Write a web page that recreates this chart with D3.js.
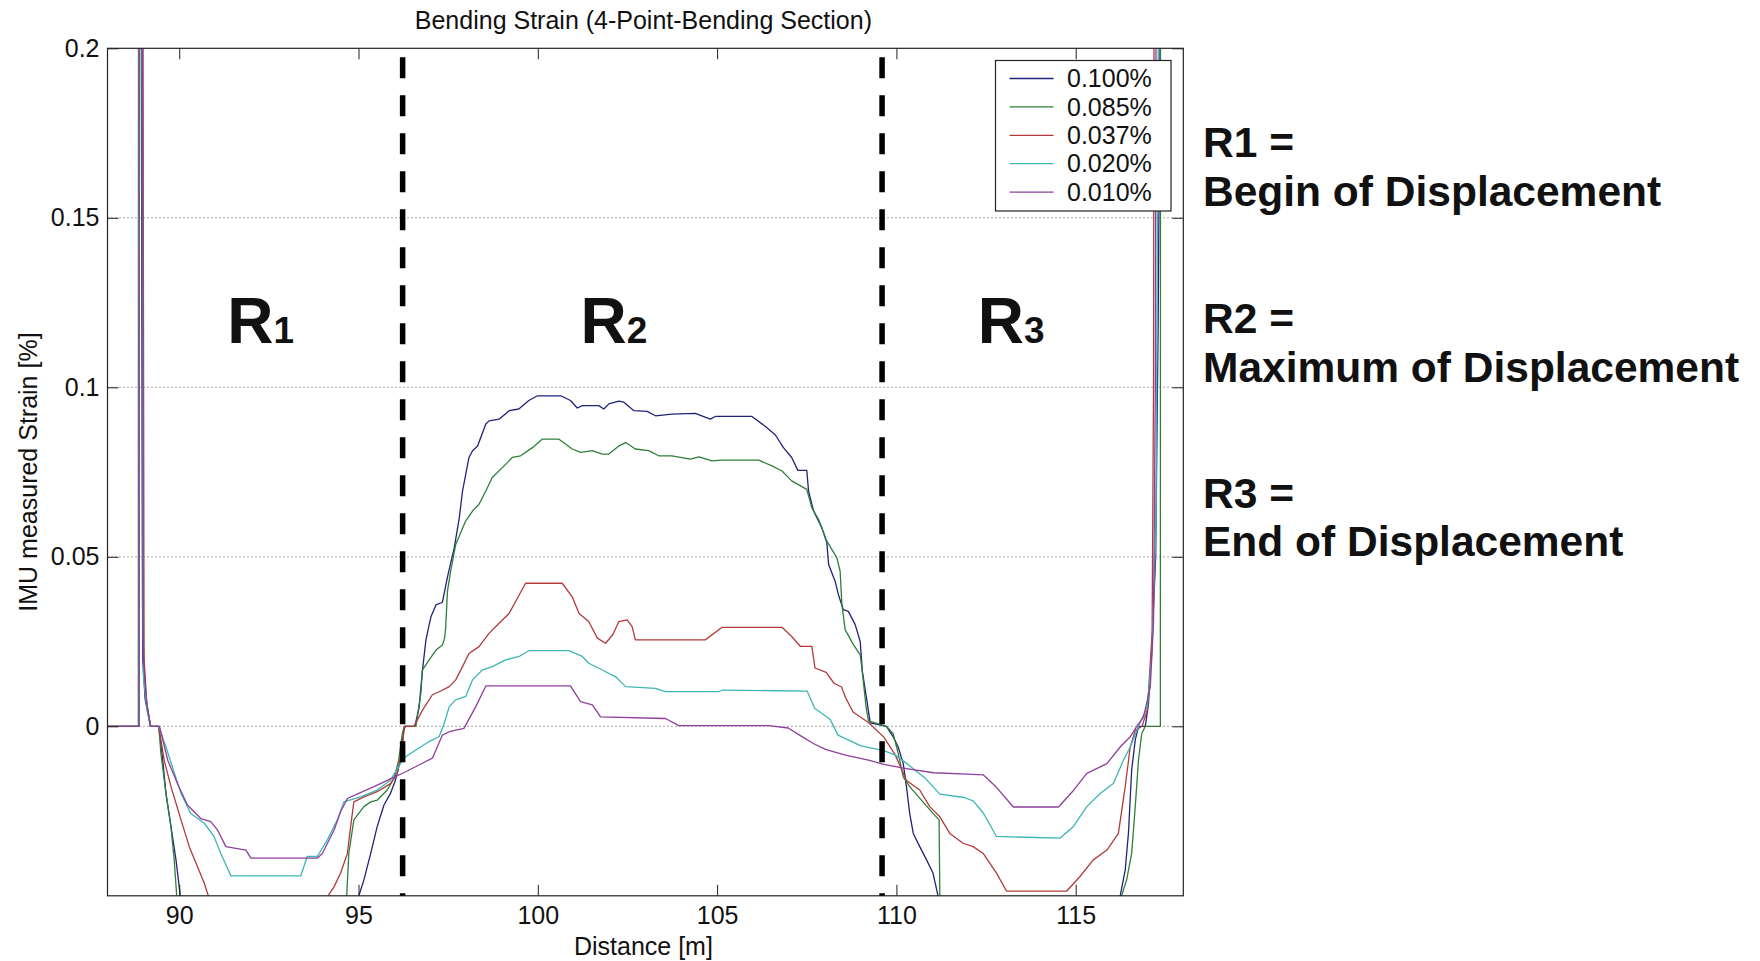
<!DOCTYPE html>
<html>
<head>
<meta charset="utf-8">
<script src="https://cdn.jsdelivr.net/npm/d3@7/dist/d3.min.js"></script>
<style>
  html, body { margin: 0; padding: 0; background: #fff; }
  svg { display: block; }
  text { font-family: "Liberation Sans", Arial, Helvetica, sans-serif; fill: #111; }
</style>
</head>
<body>
<svg id="chart" width="1760" height="961"></svg>
<script>
// ---------------- DATA ----------------
const seriesNames = ["0.100%", "0.085%", "0.037%", "0.020%", "0.010%"];
const seriesColors = ["#22227a", "#2f7f3a", "#b23a3a", "#3db5b5", "#8e3f9c"];

// [distance (m), strain (%)] pairs; values beyond the axes are clipped
const s100 = [[88.0,0],[88.87,0],[88.875,0.26],[88.93,0.26],[88.98,0.02],[89.05,0.008],[89.2,0],[89.43,0],[89.54,-0.010],[89.63,-0.0198],[89.77,-0.0296],[89.91,-0.0394],[90.03,-0.05],[90.2,-0.062],[90.6,-0.07],[94.8,-0.07],[95.01,-0.05],[95.15,-0.0453],[95.34,-0.0375],[95.52,-0.0296],[95.71,-0.0232],[95.89,-0.0198],[96.03,-0.0159],[96.17,-0.0100],[96.26,-0.0012],[96.31,0],[96.57,0],[96.69,0.0055],[96.78,0.0162],[96.88,0.0255],[96.97,0.030],[97.02,0.0323],[97.16,0.0358],[97.34,0.0366],[97.48,0.0440],[97.67,0.0527],[97.81,0.0615],[97.90,0.0694],[98.08,0.0793],[98.18,0.0813],[98.32,0.0827],[98.55,0.0892],[98.64,0.0901],[98.92,0.0906],[99.20,0.0931],[99.47,0.0936],[99.75,0.0961],[99.99,0.0975],[100.64,0.0975],[100.91,0.0961],[101.10,0.0939],[101.24,0.0946],[101.70,0.0946],[101.84,0.0936],[101.98,0.0951],[102.26,0.0959],[102.40,0.0956],[102.68,0.0931],[103.05,0.0929],[103.28,0.0916],[103.74,0.0921],[104.39,0.0923],[104.81,0.0906],[104.95,0.0914],[105.97,0.0914],[106.34,0.0885],[106.62,0.0860],[106.85,0.0822],[107.08,0.0793],[107.25,0.0755],[107.50,0.0755],[107.55,0.0694],[107.69,0.0635],[107.92,0.0586],[108.06,0.0541],[108.11,0.0477],[108.29,0.0428],[108.38,0.0389],[108.52,0.0344],[108.66,0.0339],[108.85,0.0300],[108.99,0.0250],[109.05,0.0162],[109.17,0.0080],[109.27,0.0010],[109.72,0],[109.91,-0.0031],[110.05,-0.0061],[110.19,-0.0110],[110.28,-0.0178],[110.37,-0.0257],[110.47,-0.0316],[110.65,-0.0355],[110.84,-0.0394],[111.02,-0.0433],[111.16,-0.05],[111.4,-0.062],[116.0,-0.068],[116.24,-0.05],[116.38,-0.0424],[116.47,-0.0316],[116.56,-0.0129],[116.66,-0.0041],[116.75,0],[116.94,0],[117.03,0.0067],[117.13,0.025],[117.23,0.05],[117.3,0.12],[117.35,0.2],[117.37,0.26]];

const s085 = [[88.0,0],[88.86,0],[88.865,0.26],[88.95,0.26],[88.98,0.03],[89.05,0.01],[89.2,0],[89.43,0],[89.49,-0.008],[89.63,-0.0198],[89.77,-0.0296],[89.86,-0.0394],[89.93,-0.05],[90.1,-0.065],[94.5,-0.065],[94.67,-0.05],[94.73,-0.0375],[94.87,-0.0276],[95.15,-0.0237],[95.34,-0.0223],[95.52,-0.0218],[95.80,-0.0188],[95.99,-0.0154],[96.12,-0.0100],[96.22,-0.0022],[96.28,0],[96.60,0],[96.74,0.0099],[96.78,0.0166],[96.97,0.0196],[97.16,0.0225],[97.34,0.0240],[97.40,0.0260],[97.43,0.029],[97.48,0.0398],[97.57,0.0458],[97.71,0.0536],[97.99,0.0606],[98.18,0.0635],[98.36,0.0655],[98.55,0.0694],[98.73,0.0734],[99.01,0.0763],[99.29,0.0793],[99.52,0.0798],[99.85,0.0822],[100.12,0.0847],[100.59,0.0847],[100.96,0.0818],[101.19,0.0808],[101.52,0.0813],[101.80,0.0803],[101.98,0.0803],[102.26,0.0827],[102.45,0.0837],[102.72,0.0818],[103.09,0.0813],[103.37,0.0798],[103.74,0.0798],[104.25,0.0788],[104.49,0.0795],[104.86,0.0783],[105.14,0.0785],[106.16,0.0785],[106.53,0.0768],[106.81,0.0753],[107.08,0.0724],[107.50,0.0699],[107.64,0.0645],[107.83,0.0610],[108.06,0.0546],[108.34,0.0497],[108.43,0.0458],[108.48,0.0359],[108.57,0.0285],[108.80,0.0241],[108.99,0.0211],[109.05,0.016],[109.15,0.006],[109.22,0.0016],[109.72,0],[109.91,-0.0022],[110.05,-0.0080],[110.19,-0.0149],[110.37,-0.0178],[110.74,-0.0223],[111.02,-0.0257],[111.19,-0.0276],[111.22,-0.06],[111.3,-0.065],[116.1,-0.065],[116.28,-0.05],[116.42,-0.0453],[116.56,-0.0375],[116.66,-0.0237],[116.75,-0.0100],[116.84,-0.0022],[116.94,0],[117.36,0],[117.365,0.26]];

const s037 = [[88.0,0],[88.88,0],[88.885,0.26],[88.98,0.26],[89.02,0.02],[89.1,0.006],[89.2,0],[89.43,0],[89.58,-0.0100],[89.77,-0.0178],[90.05,-0.0276],[90.28,-0.0355],[90.51,-0.0414],[90.70,-0.0463],[90.81,-0.05],[91.0,-0.056],[92.5,-0.06],[94.0,-0.056],[94.15,-0.05],[94.32,-0.0473],[94.50,-0.0433],[94.69,-0.0375],[94.78,-0.0296],[94.87,-0.0223],[95.15,-0.0208],[95.52,-0.0193],[95.89,-0.0169],[96.08,-0.0139],[96.22,-0.0061],[96.28,0],[96.55,0],[96.78,0.0047],[97.06,0.0093],[97.25,0.0102],[97.53,0.0117],[97.71,0.0137],[97.90,0.0176],[98.08,0.0215],[98.36,0.0235],[98.64,0.0274],[98.92,0.0304],[99.20,0.0333],[99.38,0.0368],[99.66,0.0422],[100.68,0.0422],[100.96,0.0382],[101.15,0.0333],[101.42,0.0309],[101.66,0.0260],[101.89,0.0245],[102.09,0.0270],[102.26,0.0309],[102.49,0.0314],[102.63,0.0294],[102.72,0.0255],[104.67,0.0255],[105.14,0.0292],[106.81,0.0292],[107.08,0.0265],[107.32,0.0236],[107.64,0.0236],[107.73,0.0172],[108.04,0.0159],[108.26,0.0127],[108.47,0.0116],[108.58,0.0085],[108.79,0.0042],[109.22,0.0011],[109.65,-0.0032],[109.97,-0.0085],[110.28,-0.0160],[110.65,-0.0188],[110.93,-0.0237],[111.21,-0.0267],[111.49,-0.0316],[111.86,-0.0345],[112.14,-0.0355],[112.42,-0.0375],[112.79,-0.0433],[113.07,-0.0486],[114.75,-0.0486],[115.12,-0.0443],[115.49,-0.0394],[115.87,-0.0365],[116.19,-0.0316],[116.38,-0.0178],[116.52,-0.0061],[116.66,-0.0012],[116.85,0],[117.0,0.005],[117.13,0.0275],[117.17,0.1],[117.19,0.26]];

const s020 = [[88.0,0],[88.88,0],[88.885,0.26],[88.96,0.26],[89.0,0.015],[89.1,0.005],[89.2,0],[89.43,0],[89.63,-0.0061],[89.81,-0.0120],[90.05,-0.0198],[90.32,-0.0257],[90.70,-0.0286],[90.97,-0.0325],[91.16,-0.0375],[91.44,-0.0441],[93.39,-0.0441],[93.57,-0.0384],[93.85,-0.0384],[94.13,-0.0335],[94.41,-0.0276],[94.59,-0.0223],[95.06,-0.0208],[95.52,-0.0188],[95.89,-0.0159],[96.17,-0.0110],[96.31,-0.0090],[96.60,-0.0070],[96.97,-0.0045],[97.25,-0.0030],[97.39,0.0009],[97.53,0.0058],[97.71,0.0078],[97.99,0.0088],[98.18,0.0137],[98.45,0.0166],[98.73,0.0176],[99.10,0.0196],[99.48,0.0206],[99.75,0.0223],[100.87,0.0223],[101.24,0.0206],[101.42,0.0186],[101.80,0.0166],[102.17,0.0146],[102.45,0.0117],[103.28,0.0112],[103.56,0.0102],[105.04,0.0102],[105.14,0.0107],[107.51,0.0104],[107.72,0.0053],[108.15,0.0021],[108.37,-0.0026],[109.01,-0.0058],[109.65,-0.0072],[109.97,-0.0085],[110.29,-0.0110],[110.82,-0.0155],[111.21,-0.0200],[111.89,-0.0210],[112.14,-0.0220],[112.42,-0.0255],[112.79,-0.0325],[114.56,-0.0330],[114.93,-0.0296],[115.31,-0.0237],[115.68,-0.0198],[116.05,-0.0169],[116.33,-0.0100],[116.52,-0.0061],[116.75,0],[117.0,0.006],[117.13,0.022],[117.24,0.06],[117.3,0.2],[117.32,0.26]];

const s010 = [[88.0,0],[88.88,0],[88.885,0.26],[88.97,0.26],[89.0,0.02],[89.1,0.006],[89.2,0],[89.45,0],[89.68,-0.0100],[89.95,-0.0169],[90.23,-0.0232],[90.60,-0.0272],[90.88,-0.0281],[91.07,-0.0306],[91.30,-0.0355],[91.86,-0.0365],[92.00,-0.0389],[93.85,-0.0389],[93.99,-0.0375],[94.32,-0.0306],[94.50,-0.0252],[94.69,-0.0213],[94.96,-0.0200],[95.43,-0.0178],[95.89,-0.0155],[96.26,-0.0137],[96.78,-0.0109],[97.06,-0.0094],[97.34,-0.0026],[97.53,-0.0016],[97.94,-0.0006],[98.27,0.0058],[98.55,0.0119],[100.91,0.0119],[101.19,0.0073],[101.52,0.0063],[101.75,0.0028],[103.56,0.0023],[103.93,0.0002],[106.44,0.0002],[106.98,-0.0005],[107.30,-0.0026],[107.72,-0.0053],[108.04,-0.0069],[108.58,-0.0085],[109.22,-0.0100],[109.65,-0.0112],[110.28,-0.0125],[111.04,-0.0137],[111.96,-0.0141],[112.42,-0.0143],[112.79,-0.0180],[113.26,-0.0238],[114.52,-0.0238],[114.93,-0.0190],[115.31,-0.0139],[115.87,-0.0110],[116.24,-0.0061],[116.52,-0.0031],[116.70,0],[116.89,0.0027],[117.08,0.0116],[117.17,0.031],[117.22,0.1],[117.25,0.26]];

const seriesData = [s100, s085, s037, s020, s010];

const xTicks = [90, 95, 100, 105, 110, 115];
const yTicks = [0, 0.05, 0.1, 0.15, 0.2];
const yTickLabels = ["0", "0.05", "0.1", "0.15", "0.2"];
const xDomain = [88, 118];
const yDomain = [-0.05, 0.2];

const regionBounds = [96.23, 109.6];
const regionLabels = [{ name: "R", sub: "1", at: 92.27 }, { name: "R", sub: "2", at: 102.12 }, { name: "R", sub: "3", at: 113.2 }];
const regionLabelStrain = 0.113;

const titleText = "Bending Strain (4-Point-Bending Section)";
const xLabel = "Distance [m]";
const yLabel = "IMU measured Strain [%]";
const noteLines = ["R1 =", "Begin of Displacement", "R2 =", "Maximum of Displacement", "R3 =", "End of Displacement"];

// ---------------- LAYOUT ----------------
const svg = d3.select("#chart");
const L = 107.5, R = 1183.3, T = 48.3, B = 895.8;
const x = d3.scaleLinear().domain(xDomain).range([L, R]);
const y = d3.scaleLinear().domain(yDomain).range([B, T]);

svg.append("rect").attr("width", 1760).attr("height", 961).attr("fill", "#fff");

// grid (dotted, horizontal only)
svg.append("g").selectAll("line").data(yTicks.filter(v => v < 0.2)).join("line")
  .attr("x1", L).attr("x2", R)
  .attr("y1", d => y(d)).attr("y2", d => y(d))
  .attr("stroke", "#555").attr("stroke-width", 1).attr("stroke-dasharray", "1,3");

// clip
svg.append("clipPath").attr("id", "plotclip").append("rect")
  .attr("x", L).attr("y", T).attr("width", R - L).attr("height", B - T);

// lines
const line = d3.line().x(d => x(d[0])).y(d => y(d[1]));
svg.append("g").attr("clip-path", "url(#plotclip)")
  .selectAll("path").data(seriesData).join("path")
  .attr("d", d => line(d))
  .attr("fill", "none")
  .attr("stroke", (d, i) => seriesColors[i])
  .attr("stroke-width", 1.3)
  .attr("stroke-linejoin", "round");

// axes (ticks inside, MATLAB style)
const tickLen = 11;
const fontAxis = "25px";
const gx = svg.append("g").attr("transform", `translate(0,${B})`)
  .call(d3.axisBottom(x).tickValues(xTicks).tickSizeInner(-tickLen).tickSizeOuter(0).tickPadding(10).tickFormat(d3.format("d")));
const gxt = svg.append("g").attr("transform", `translate(0,${T})`)
  .call(d3.axisTop(x).tickValues(xTicks).tickSizeInner(-tickLen).tickSizeOuter(0).tickFormat(""));
const gy = svg.append("g").attr("transform", `translate(${L},0)`)
  .call(d3.axisLeft(y).tickValues(yTicks).tickSizeInner(-tickLen).tickSizeOuter(0).tickPadding(8).tickFormat((d, i) => yTickLabels[i]));
const gyr = svg.append("g").attr("transform", `translate(${R},0)`)
  .call(d3.axisRight(y).tickValues(yTicks).tickSizeInner(-tickLen).tickSizeOuter(0).tickFormat(""));
[gx, gxt, gy, gyr].forEach(g => {
  g.select(".domain").remove();
  g.selectAll(".tick line").attr("stroke", "#222").attr("stroke-width", 1);
  g.selectAll("text").attr("font-size", fontAxis).attr("fill", "#111")
    .attr("font-family", "'Liberation Sans', Arial, sans-serif");
});

// frame
svg.append("rect").attr("x", L).attr("y", T).attr("width", R - L).attr("height", B - T)
  .attr("fill", "none").attr("stroke", "#222").attr("stroke-width", 1.2);

// title & labels
svg.append("text").attr("x", (L + R) / 2 - 2).attr("y", 29).attr("text-anchor", "middle")
  .attr("font-size", "25px").text(titleText);
svg.append("text").attr("x", (L + R) / 2 - 2).attr("y", 955).attr("text-anchor", "middle")
  .attr("font-size", "25px").text(xLabel);
svg.append("text").attr("transform", `translate(37,${(T + B) / 2}) rotate(-90)`)
  .attr("text-anchor", "middle").attr("font-size", "25px").text(yLabel);

// region boundaries (thick dashed)
svg.append("g").selectAll("line").data(regionBounds).join("line")
  .attr("x1", d => x(d)).attr("x2", d => x(d))
  .attr("y1", T + 9).attr("y2", B)
  .attr("stroke", "#000").attr("stroke-width", 5.5).attr("stroke-dasharray", "21,17");

// region labels
const rl = svg.append("g").selectAll("text").data(regionLabels).join("text")
  .attr("x", d => x(d.at)).attr("y", y(regionLabelStrain))
  .attr("text-anchor", "middle").attr("font-weight", "bold").attr("fill", "#000");
rl.append("tspan").attr("font-size", "64px").text(d => d.name);
rl.append("tspan").attr("font-size", "37px").text(d => d.sub);

// legend
const lg = svg.append("g");
lg.append("rect").attr("x", 995.5).attr("y", 60.5).attr("width", 175.5).attr("height", 150.5)
  .attr("fill", "#fff").attr("stroke", "#222").attr("stroke-width", 1.2);
const rows = lg.selectAll("g.row").data(seriesNames).join("g").attr("class", "row")
  .attr("transform", (d, i) => `translate(0,${78.5 + i * 28.4})`);
rows.append("line").attr("x1", 1009.5).attr("x2", 1053.5).attr("y1", 0).attr("y2", 0)
  .attr("stroke", (d, i) => seriesColors[i]).attr("stroke-width", 1.3);
rows.append("text").attr("x", 1067).attr("y", 0).attr("dy", "0.35em")
  .attr("font-size", "25px").text(d => d);

// notes on the right
const noteY = [157, 205.5, 333, 381.5, 508, 556];
svg.append("g").selectAll("text").data(noteLines).join("text")
  .attr("x", 1203).attr("y", (d, i) => noteY[i])
  .attr("font-size", "42.5px").attr("font-weight", "bold").attr("fill", "#000")
  .text(d => d);
</script>
</body>
</html>
